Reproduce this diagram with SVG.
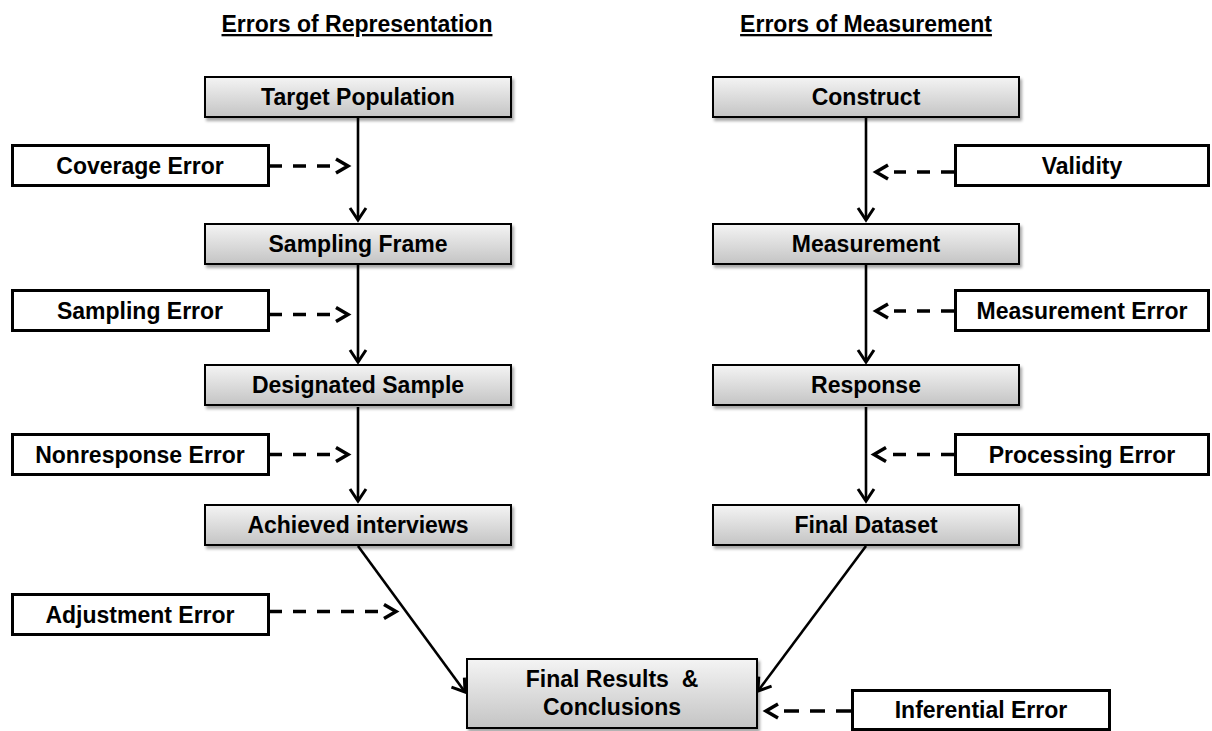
<svg xmlns="http://www.w3.org/2000/svg" width="1212" height="731" viewBox="0 0 1212 731">
<defs>
<linearGradient id="g" x1="0" y1="0" x2="0" y2="1">
<stop offset="0" stop-color="#f4f4f4"/>
<stop offset="1" stop-color="#c4c4c4"/>
</linearGradient>
<filter id="sh" x="-5%" y="-20%" width="115%" height="150%">
<feDropShadow dx="2" dy="3" stdDeviation="1.5" flood-color="#000" flood-opacity="0.35"/>
</filter>
<marker id="ah" markerUnits="userSpaceOnUse" viewBox="0 0 30 30" markerWidth="30" markerHeight="30" refX="15" refY="15" orient="auto" overflow="visible">
<path d="M3,7 L15,15 L3,23" fill="none" stroke="#000" stroke-width="3"/>
</marker>
<marker id="dh" markerUnits="userSpaceOnUse" viewBox="0 0 40 30" markerWidth="40" markerHeight="30" refX="0" refY="15" orient="auto" overflow="visible">
<path d="M6,8 L18,15 L6,22" fill="none" stroke="#000" stroke-width="3.5"/>
</marker>
</defs>
<style>
text{font-family:"Liberation Sans",Arial,sans-serif;font-weight:bold;font-size:23px;fill:#000;text-anchor:middle;white-space:pre}
.title{text-decoration:underline}
.node{fill:url(#g);stroke:#000;stroke-width:2;filter:url(#sh)}
.err{fill:#fff;stroke:#000;stroke-width:3}
.solid{stroke:#000;stroke-width:2.6;fill:none;marker-end:url(#ah)}
.dash{stroke:#000;stroke-width:3.5;fill:none;stroke-dasharray:13 11;marker-end:url(#dh)}
</style>
<rect width="1212" height="731" fill="#fff"/>
<g id="titles">
<text class="title" x="357" y="32">Errors of Representation</text>
<text class="title" x="866" y="32">Errors of Measurement</text>
</g>
<g id="connectors">
<line class="solid" x1="358" y1="118" x2="358" y2="220"/>
<line class="solid" x1="358" y1="265" x2="358" y2="362"/>
<line class="solid" x1="358" y1="407" x2="358" y2="501"/>
<line class="solid" x1="358" y1="546" x2="465" y2="692"/>
<line class="solid" x1="866" y1="118" x2="866" y2="220"/>
<line class="solid" x1="866" y1="265" x2="866" y2="362"/>
<line class="solid" x1="866" y1="407" x2="866" y2="501"/>
<line class="solid" x1="866" y1="546" x2="758" y2="691"/>
<line class="dash" x1="269" y1="166" x2="330" y2="166"/>
<line class="dash" x1="269" y1="314.5" x2="330" y2="314.5"/>
<line class="dash" x1="269" y1="454.5" x2="330" y2="454.5"/>
<line class="dash" x1="269" y1="611.5" x2="378" y2="611.5"/>
<line class="dash" x1="954" y1="172" x2="894" y2="172"/>
<line class="dash" x1="954" y1="311" x2="894" y2="311"/>
<line class="dash" x1="954" y1="454.5" x2="892" y2="454.5"/>
<line class="dash" x1="851" y1="711" x2="784" y2="711" style="stroke-dasharray:15 11"/>
</g>
<g id="target-population"><rect class="node" x="205" y="77" width="306" height="40"/><text x="358" y="105">Target Population</text></g>
<g id="sampling-frame"><rect class="node" x="205" y="224" width="306" height="40"/><text x="358" y="252">Sampling Frame</text></g>
<g id="designated-sample"><rect class="node" x="205" y="365" width="306" height="40"/><text x="358" y="393">Designated Sample</text></g>
<g id="achieved-interviews"><rect class="node" x="205" y="505" width="306" height="40"/><text x="358" y="533">Achieved interviews</text></g>
<g id="construct"><rect class="node" x="713" y="77" width="306" height="40"/><text x="866" y="105">Construct</text></g>
<g id="measurement"><rect class="node" x="713" y="224" width="306" height="40"/><text x="866" y="252">Measurement</text></g>
<g id="response"><rect class="node" x="713" y="365" width="306" height="40"/><text x="866" y="393">Response</text></g>
<g id="final-dataset"><rect class="node" x="713" y="505" width="306" height="40"/><text x="866" y="533">Final Dataset</text></g>
<g id="final-results"><rect class="node" x="467" y="659" width="290" height="69"/><text x="612" y="687">Final Results  &amp;</text><text x="612" y="715">Conclusions</text></g>
<g id="coverage-error"><rect class="err" x="12.5" y="145.5" width="256" height="40"/><text x="140" y="174">Coverage Error</text></g>
<g id="sampling-error"><rect class="err" x="12.5" y="290.5" width="256" height="40"/><text x="140" y="319">Sampling Error</text></g>
<g id="nonresponse-error"><rect class="err" x="12.5" y="434.5" width="256" height="40"/><text x="140" y="463">Nonresponse Error</text></g>
<g id="adjustment-error"><rect class="err" x="12.5" y="594.5" width="256" height="40"/><text x="140" y="623">Adjustment Error</text></g>
<g id="validity"><rect class="err" x="955.5" y="145.5" width="253" height="40"/><text x="1082" y="174">Validity</text></g>
<g id="measurement-error"><rect class="err" x="955.5" y="290.5" width="253" height="40"/><text x="1082" y="319">Measurement Error</text></g>
<g id="processing-error"><rect class="err" x="955.5" y="434.5" width="253" height="40"/><text x="1082" y="463">Processing Error</text></g>
<g id="inferential-error"><rect class="err" x="852.5" y="690.5" width="257" height="39"/><text x="981" y="718">Inferential Error</text></g>
</svg>
